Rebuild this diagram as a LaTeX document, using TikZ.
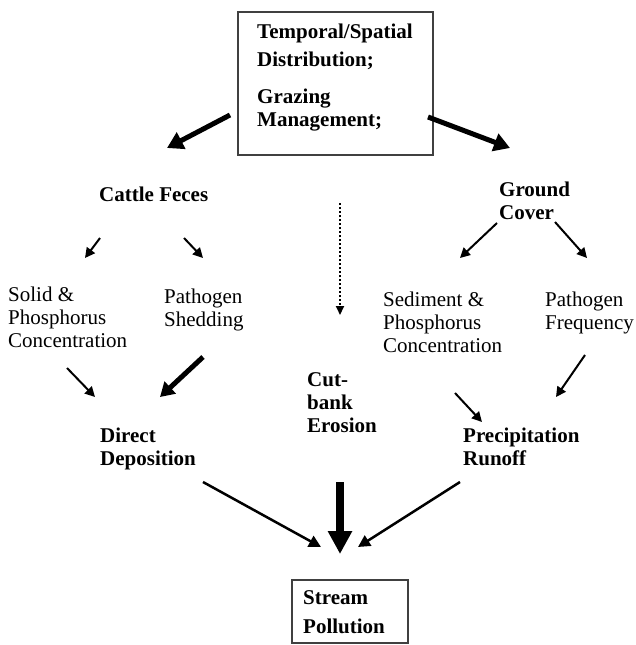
\documentclass[tikz,border=0pt]{standalone}
\usepackage{fontspec}
\setmainfont{Liberation Serif}
\usetikzlibrary{arrows.meta}
\begin{document}
\begin{tikzpicture}[x=1pt,y=-1pt,
  txt/.style={anchor=north west, inner sep=0pt, align=left, font=\fontsize{21}{23}\selectfont},
  btxt/.style={txt, font=\fontsize{21}{23}\selectfont\bfseries},
  boxline/.style={draw=black!75, line width=1.5pt},
  bigarrow/.style={line width=5pt, -{Triangle[length=16pt,width=18pt]}},
  midarrow/.style={line width=5pt, -{Triangle[length=14pt,width=16pt]}},
  smallarrow/.style={line width=2pt, -{Triangle[length=10pt,width=10pt]}},
  botarrow/.style={line width=2.5pt, -{Triangle[length=12pt,width=12pt]}},
  hugearrow/.style={line width=8pt, -{Triangle[length=23pt,width=23pt]}},
  dotarrow/.style={line width=2pt, dotted, -{Triangle[length=9pt,width=8pt]}}
]
\useasboundingbox (0,0) rectangle (635,645);
% boxes
\node[boxline, minimum width=195pt, minimum height=143pt, inner sep=0pt] (top) at (335.5,83.5) {};
\node[btxt] (toptxt) at (257,24) {Temporal/Spatial\\[5pt]Distribution;\\[14pt]Grazing\\Management;};
\node[boxline, minimum width=116pt, minimum height=63pt, inner sep=0pt] (stream) at (350,611.5) {};
\node[btxt, font=\fontsize{21}{29}\selectfont\bfseries] (streamtxt) at (303,590) {Stream\\Pollution};
% labels
\node[btxt] (cattle) at (99,187) {Cattle Feces};
\node[btxt] (ground) at (499,182) {Ground\\Cover};
\node[txt] (solid) at (8,287) {Solid \&\\Phosphorus\\Concentration};
\node[txt] (shed) at (164,289) {Pathogen\\Shedding};
\node[txt] (sed) at (383,292) {Sediment \&\\Phosphorus\\Concentration};
\node[txt] (freq) at (545,292) {Pathogen\\Frequency};
\node[btxt] (cut) at (307,372) {Cut-\\bank\\Erosion};
\node[btxt] (direct) at (100,428) {Direct\\Deposition};
\node[btxt] (precip) at (463,428) {Precipitation\\Runoff};
% arrow end points
\coordinate (a1s) at (230,115); \coordinate (a1e) at (167,148);
\coordinate (a2s) at (428,117); \coordinate (a2e) at (510,148);
\coordinate (a3s) at (100,238); \coordinate (a3e) at (85,258);
\coordinate (a4s) at (184,238); \coordinate (a4e) at (203,258);
\coordinate (a5s) at (497,223); \coordinate (a5e) at (460,258);
\coordinate (a6s) at (555,222); \coordinate (a6e) at (587,258);
\coordinate (a7s) at (340,203); \coordinate (a7e) at (340,315);
\coordinate (a8s) at (67,368);  \coordinate (a8e) at (95,397);
\coordinate (a9s) at (203,357); \coordinate (a9e) at (160,397);
\coordinate (a10s) at (455,393); \coordinate (a10e) at (482,422);
\coordinate (a11s) at (585,355); \coordinate (a11e) at (556,397);
\coordinate (a12s) at (203,482); \coordinate (a12e) at (321,547);
\coordinate (a13s) at (340,482); \coordinate (a13e) at (340,554);
\coordinate (a14s) at (460,482); \coordinate (a14e) at (358,547);
% arrows
\draw[bigarrow] (a1s) -- (a1e);
\draw[bigarrow] (a2s) -- (a2e);
\draw[smallarrow] (a3s) -- (a3e);
\draw[smallarrow] (a4s) -- (a4e);
\draw[smallarrow] (a5s) -- (a5e);
\draw[smallarrow] (a6s) -- (a6e);
\draw[dotarrow] (a7s) -- (a7e);
\draw[smallarrow] (a8s) -- (a8e);
\draw[midarrow] (a9s) -- (a9e);
\draw[smallarrow] (a10s) -- (a10e);
\draw[smallarrow] (a11s) -- (a11e);
\draw[botarrow] (a12s) -- (a12e);
\draw[hugearrow] (a13s) -- (a13e);
\draw[botarrow] (a14s) -- (a14e);
\end{tikzpicture}
\end{document}
